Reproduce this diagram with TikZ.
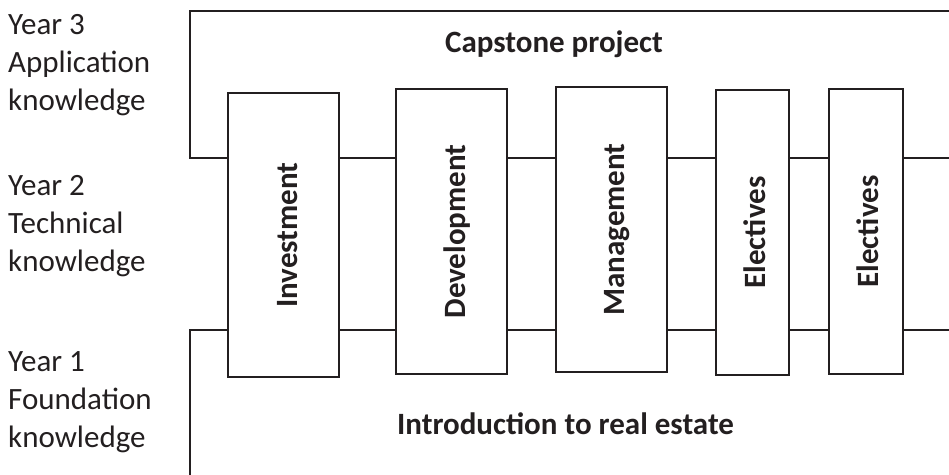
\documentclass[tikz,border=0pt]{standalone}
\usepackage{fontspec}
\setmainfont{Carlito}
\definecolor{ink}{HTML}{231F20}
\begin{document}
\begin{tikzpicture}[x=1pt,y=-1pt,
  line/.style={draw=ink,line width=2.6pt},
  course/.style={draw=ink,line width=2.6pt,fill=white,rectangle,inner sep=0pt},
  coursetext/.style={rotate=90,anchor=base,text=ink,font=\fontsize{31}{38}\selectfont\bfseries,inner sep=0pt},
  bigtext/.style={anchor=base,text=ink,font=\fontsize{31}{38}\selectfont\bfseries,inner sep=0pt},
  yeartext/.style={anchor=base west,align=left,text=ink,font=\fontsize{31}{38}\selectfont,inner sep=0pt}]
\useasboundingbox (0,0) rectangle (949,474);
\clip (0,0) rectangle (949,474);
% frames
\coordinate (tr) at (960,11);
\coordinate (tl) at (190,11);
\coordinate (tm) at (190,158);
\coordinate (br) at (960,330);
\coordinate (bl) at (190,330);
\coordinate (bb) at (190,490);
\coordinate (tend) at (960,158);
% boxes
\node[course,minimum width=111pt,minimum height=284pt] (inv) at (283.5,235) {};
\node[course,minimum width=111pt,minimum height=285pt] (dev) at (451.5,231.5) {};
\node[course,minimum width=111pt,minimum height=285pt] (man) at (611.5,229.5) {};
\node[course,minimum width=73pt,minimum height=285pt] (el1) at (752.5,232.5) {};
\node[course,minimum width=74pt,minimum height=285pt] (el2) at (866,231.5) {};
% top frame
\draw[line,line join=miter] (tr) -- (tl) -- (tm) -- (inv.west |- tm);
\draw[line] (inv.east |- tm) -- (dev.west |- tm);
\draw[line] (dev.east |- tm) -- (man.west |- tm);
\draw[line] (man.east |- tm) -- (el1.west |- tm);
\draw[line] (el1.east |- tm) -- (el2.west |- tm);
\draw[line] (el2.east |- tm) -- (tend);
% bottom frame
\draw[line,line join=miter] (bb) -- (bl) -- (inv.west |- bl);
\draw[line] (inv.east |- bl) -- (dev.west |- bl);
\draw[line] (dev.east |- bl) -- (man.west |- bl);
\draw[line] (man.east |- bl) -- (el1.west |- bl);
\draw[line] (el1.east |- bl) -- (el2.west |- bl);
\draw[line] (el2.east |- bl) -- (br);
% texts
\node[coursetext] (tinv) at ([xshift=13.5pt]inv.center) {Investment};
\node[coursetext] (tdev) at ([xshift=13.5pt]dev.center) {Development};
\node[coursetext] (tman) at ([xshift=12.5pt]man.center) {Management};
\node[coursetext] (tel1) at ([xshift=12.5pt]el1.center) {Electives};
\node[coursetext] (tel2) at ([xshift=12.5pt]el2.center) {Electives};
\node[bigtext] (cap) at (554,52.3) {Capstone project};
\node[bigtext] (intro) at (565.5,434) {Introduction to real estate};
\node[yeartext] (y3) at (8,110) {Year 3\\Application\\knowledge};
\node[yeartext] (y2) at (8,271) {Year 2\\Technical\\knowledge};
\node[yeartext] (y1) at (8,447) {Year 1\\Foundation\\knowledge};
\end{tikzpicture}
\end{document}
